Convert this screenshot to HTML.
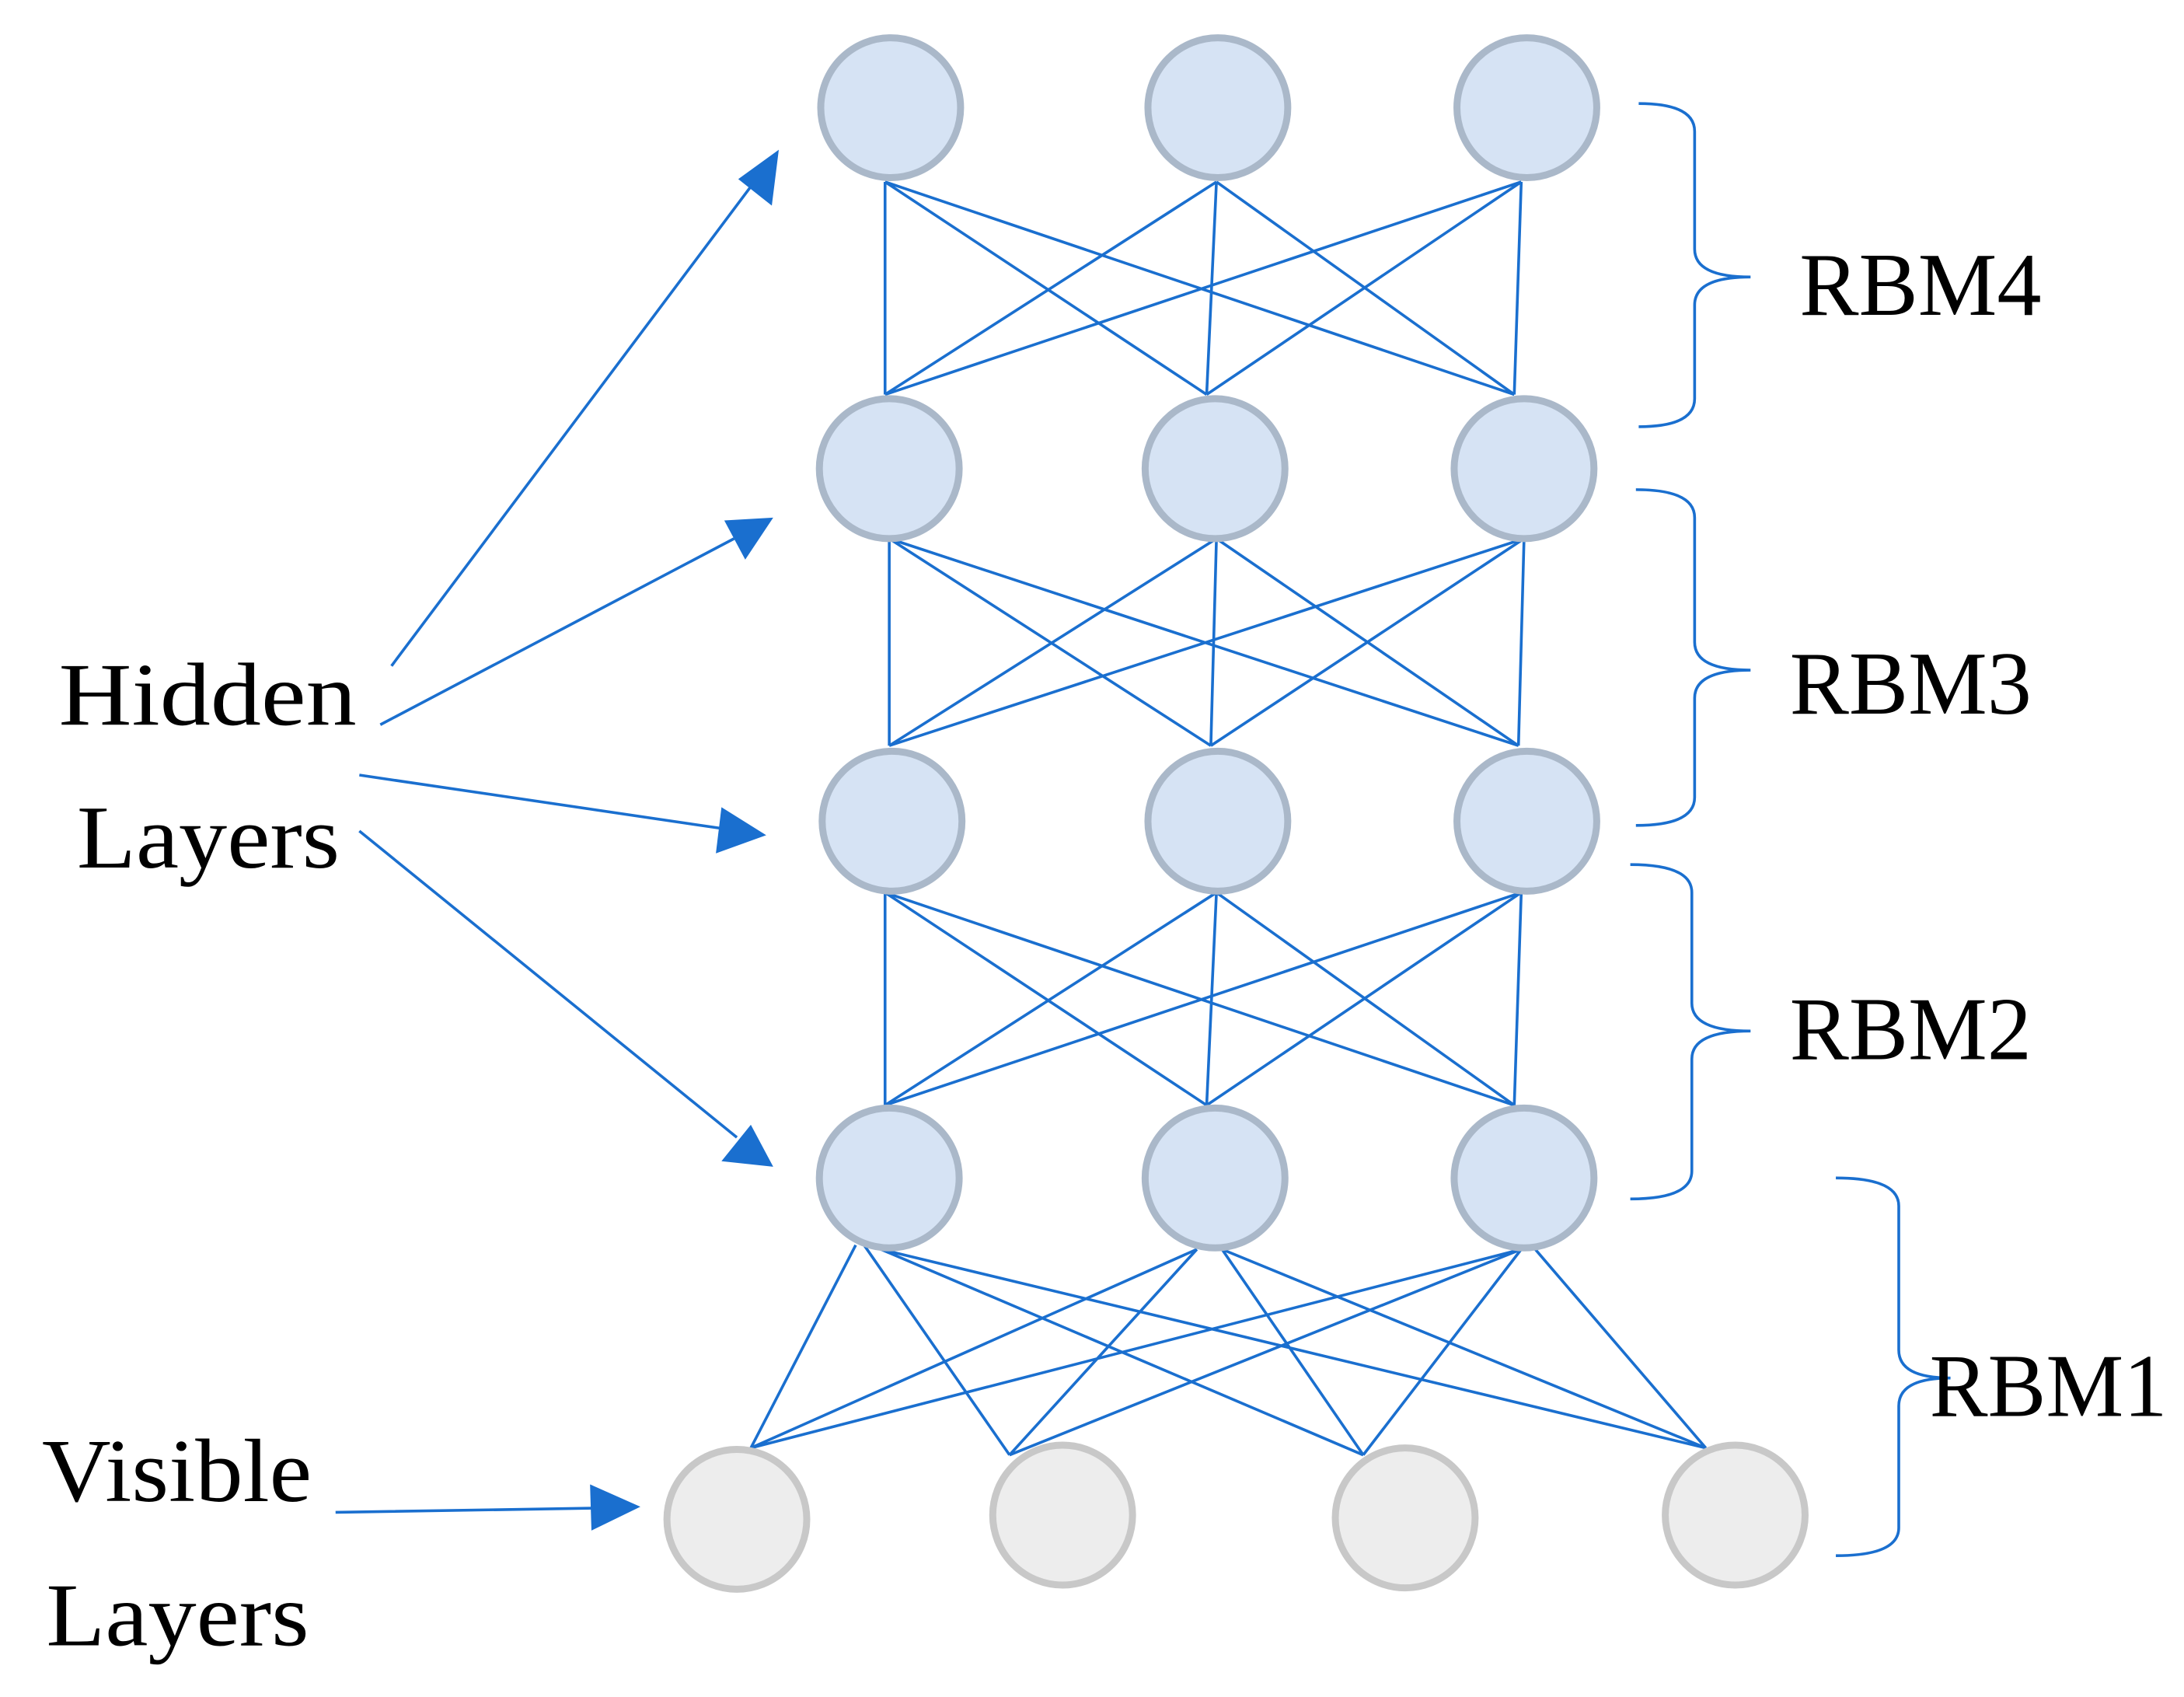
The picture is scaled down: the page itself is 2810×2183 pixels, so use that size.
<!DOCTYPE html>
<html><head><meta charset="utf-8"><style>html,body{margin:0;padding:0;background:#fff}svg{display:block}</style></head>
<body>
<svg width="2810" height="2183" viewBox="0 0 1562 1213" preserveAspectRatio="none" xmlns="http://www.w3.org/2000/svg">
<defs>
<marker id="ah" markerWidth="10" markerHeight="10" refX="9" refY="5" orient="auto" markerUnits="userSpaceOnUse" viewBox="0 0 10 10">
</marker>
</defs>
<g stroke="#1a6fcf" stroke-width="2" fill="none">
<!-- row1->row2 -->
<path d="M633,130L633,282M633,130L863,282M633,130L1083,282M870,130L633,282M870,130L863,282M870,130L1083,282M1088,130L633,282M1088,130L863,282M1088,130L1083,282"/>
<path d="M636,385L636,533M636,385L866,533M636,385L1086,533M870,385L636,533M870,385L866,533M870,385L1086,533M1090,385L636,533M1090,385L866,533M1090,385L1086,533"/>
<path d="M633,638L633,790M633,638L863,790M633,638L1083,790M870,638L633,790M870,638L863,790M870,638L1083,790M1088,638L633,790M1088,638L863,790M1088,638L1083,790"/>
<path d="M612,890L537,1035M618,890L722,1040M630,893L975,1040M630,893L1220,1035M856,893L537,1035M856,893L722,1040M874,893L975,1040M874,893L1220,1035M1088,893L537,1035M1088,893L722,1040M1088,893L975,1040M1098,893L1220,1035"/>
<!-- arrows -->
<path d="M280,476L538,132M272,518L525,385M257,554L515,592M257,594L527,813M240,1081L425,1078"/>
<!-- braces -->
<path d="M1172,74Q1212,74 1212,94L1212,178Q1212,198 1252,198Q1212,198 1212,218L1212,285Q1212,305 1172,305"/>
<path d="M1170,350Q1212,350 1212,370L1212,459Q1212,479 1252,479Q1212,479 1212,499L1212,570Q1212,590 1170,590"/>
<path d="M1166,618Q1210,618 1210,638L1210,717Q1210,737 1252,737Q1210,737 1210,757L1210,837Q1210,857 1166,857"/>
<path d="M1313,842Q1358,842 1358,862L1358,965Q1358,985 1395,985Q1358,985 1358,1005L1358,1092Q1358,1112 1313,1112"/>
</g>
<g fill="#1a6fcf">
<polygon points="557,107 552,147 528,128"/>
<polygon points="553,370 533,400 518,372"/>
<polygon points="548,597 512,610 516,577"/>
<polygon points="553,834 516,830 537,804"/>
<polygon points="458,1077 423,1094 422,1061"/>
</g>
<g fill="#d6e3f4" stroke="#aab8c9" stroke-width="5">
<circle cx="637" cy="77" r="50"/><circle cx="871" cy="77" r="50"/><circle cx="1092" cy="77" r="50"/>
<circle cx="636" cy="335" r="50"/><circle cx="869" cy="335" r="50"/><circle cx="1090" cy="335" r="50"/>
<circle cx="638" cy="587" r="50"/><circle cx="871" cy="587" r="50"/><circle cx="1092" cy="587" r="50"/>
<circle cx="636" cy="842" r="50"/><circle cx="869" cy="842" r="50"/><circle cx="1090" cy="842" r="50"/>
</g>
<g fill="#ededed" stroke="#c8c8c8" stroke-width="5">
<circle cx="527" cy="1086" r="50"/><circle cx="760" cy="1083" r="50"/><circle cx="1005" cy="1085" r="50"/><circle cx="1241" cy="1083" r="50"/>
</g>
<g font-family="Liberation Serif, serif" font-size="64" fill="#000">
<text x="42" y="518" textLength="213" lengthAdjust="spacingAndGlyphs">Hidden</text>
<text x="55" y="620" textLength="188" lengthAdjust="spacingAndGlyphs">Layers</text>
<text x="30" y="1073" textLength="193" lengthAdjust="spacingAndGlyphs">Visible</text>
<text x="33" y="1176" textLength="188" lengthAdjust="spacingAndGlyphs">Layers</text>
<text x="1287" y="225" textLength="173" lengthAdjust="spacingAndGlyphs">RBM4</text>
<text x="1280" y="510" textLength="173" lengthAdjust="spacingAndGlyphs">RBM3</text>
<text x="1280" y="757" textLength="173" lengthAdjust="spacingAndGlyphs">RBM2</text>
<text x="1380" y="1012" textLength="170" lengthAdjust="spacingAndGlyphs">RBM1</text>
</g>
</svg>
</body></html>
